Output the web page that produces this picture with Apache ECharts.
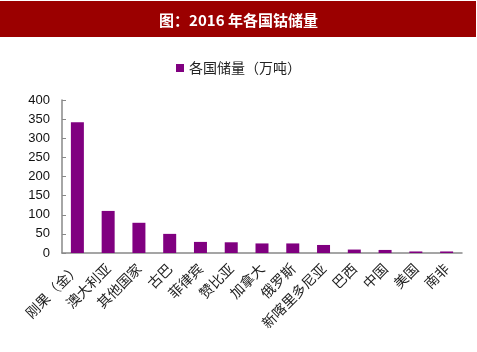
<!DOCTYPE html>
<html>
<head>
<meta charset="utf-8">
<script src="https://cdn.jsdelivr.net/npm/echarts@6/dist/echarts.min.js"></script>
<style>
html, body { margin: 0; padding: 0; background: #fff; }
#chart { width: 477px; height: 352px; }
</style>
</head>
<body>
<div id="chart"></div>
<script>
var titleText = '图：2016 年各国钴储量';
var seriesName = '各国储量（万吨）';
var countries = ['刚果（金）', '澳大利亚', '其他国家', '古巴', '菲律宾', '赞比亚', '加拿大', '俄罗斯', '新喀里多尼亚', '巴西', '中国', '美国', '南非'];
var reserves = [342, 110, 79, 50, 29, 28, 25, 25, 21, 9, 8, 4, 4];

var chart = echarts.init(document.getElementById('chart'));
chart.setOption({
  animation: false,
  graphic: [{
    type: 'rect',
    left: 0, top: 1,
    shape: { width: 476, height: 36 },
    style: { fill: '#9b0000' },
    z: -1
  }],
  title: {
    text: titleText,
    left: 'center',
    top: 8,
    textStyle: { color: '#fff', fontSize: 15, fontWeight: 'bold', fontFamily: 'Noto Sans CJK SC' }
  },
  legend: {
    top: 56,
    left: 'center',
    itemWidth: 8,
    itemHeight: 8,
    itemGap: 4,
    icon: 'rect',
    textStyle: { fontSize: 14, color: '#222', fontFamily: 'Noto Sans CJK SC' },
    data: [seriesName]
  },
  grid: { left: 62, right: 15, top: 100, bottom: 99, containLabel: false },
  xAxis: {
    type: 'category',
    data: countries,
    axisLine: { lineStyle: { color: '#888', width: 1.5 } },
    axisTick: { inside: true, length: 5, lineStyle: { color: '#888' } },
    axisLabel: {
      rotate: 45, interval: 0, margin: 13,
      color: '#222', fontSize: 14, fontFamily: 'Noto Sans CJK SC'
    }
  },
  yAxis: {
    type: 'value',
    min: 0, max: 400, interval: 50,
    splitLine: { show: false },
    axisLine: { show: true, lineStyle: { color: '#888', width: 1.5 } },
    axisTick: { show: true, inside: true, length: 4, lineStyle: { color: '#888' } },
    axisLabel: { color: '#111', fontSize: 13, fontFamily: 'Liberation Sans', margin: 12 }
  },
  series: [{
    name: seriesName,
    type: 'bar',
    data: reserves,
    barWidth: 13,
    itemStyle: { color: '#800080' }
  }]
});
</script>
</body>
</html>
